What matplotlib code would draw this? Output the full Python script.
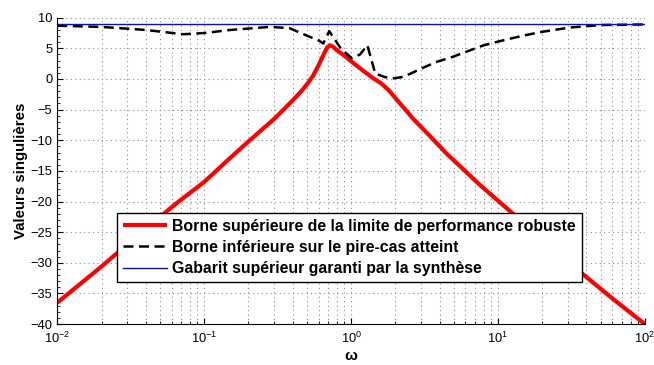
import numpy as np
import matplotlib
matplotlib.use("Agg")
import matplotlib.pyplot as plt
from matplotlib.ticker import LogLocator, MultipleLocator, NullFormatter

plt.rcParams['font.family'] = ['Liberation Sans', 'DejaVu Sans']
plt.rcParams['mathtext.fontset'] = 'custom'
plt.rcParams['mathtext.rm'] = 'Liberation Sans'
plt.rcParams['mathtext.it'] = 'Liberation Sans:italic'
plt.rcParams['mathtext.bf'] = 'Liberation Sans:bold'

# borne supérieure (mu robuste)
w_sup = [0.01, 0.02, 0.04, 0.067, 0.1, 0.15, 0.2, 0.3, 0.35, 0.4, 0.45, 0.5,
         0.55, 0.6, 0.65, 0.69, 0.72, 0.76, 0.8, 0.9, 1.0, 1.2, 1.4, 1.6, 1.8,
         2.0, 2.65, 3.5, 4.48, 7.54, 12.4, 20, 37.2, 60, 100]
mu_sup = [-36.5, -30.6, -24.4, -20.0, -16.8, -12.9, -10.2, -6.5, -4.9, -3.5,
          -2.2, -0.9, 0.5, 2.2, 4.0, 5.2, 5.5, 5.2, 4.7, 3.8, 2.9, 1.4, 0.2,
          -0.7, -1.8, -3.1, -6.5, -9.5, -12.2, -17.3, -21.8, -26.3, -31.7,
          -35.8, -40.0]

# borne inférieure (pire-cas)
w_inf = [0.01, 0.02, 0.04, 0.072, 0.1, 0.15, 0.28, 0.38, 0.52, 0.6, 0.647,
         0.71, 0.85, 1.01, 1.15, 1.29, 1.46, 1.7, 1.95, 2.2, 2.5, 3.0, 3.83,
         4.9, 6.5, 8.0, 10.8, 15, 20, 30.9, 50, 100]
mu_inf = [8.7, 8.5, 8.0, 7.3, 7.5, 8.0, 8.5, 8.3, 6.9, 6.3, 5.8,
          7.8, 5.0, 3.4, 4.0, 5.5, 0.9, 0.3, 0.1, 0.3, 0.8, 1.7, 2.8,
          3.6, 4.7, 5.5, 6.3, 7.1, 7.7, 8.4, 8.8, 8.9]

# gabarit
w_gab = [0.01, 100]
gab = [9.0, 9.0]

fig = plt.figure(figsize=(6.54, 3.65), dpi=100)
ax = fig.add_axes([0.0876, 0.112, 0.8985, 0.8395])

ax.semilogx(w_sup, mu_sup, color='#ff0000', lw=3.0, solid_capstyle='butt',
            label='Borne supérieure de la limite de performance robuste')
ax.semilogx(w_inf, mu_inf, color='black', lw=1.8, dashes=(4, 2.2),
            label='Borne inférieure sur le pire-cas atteint')
ax.semilogx(w_gab, gab, color='#1010b0', lw=1.0,
            label='Gabarit supérieur garanti par la synthèse')

ax.set_xlim(1e-2, 1e2)
ax.set_ylim(-40, 10)
ax.yaxis.set_major_locator(MultipleLocator(5))
ax.yaxis.set_minor_locator(MultipleLocator(1))
ax.xaxis.set_major_locator(LogLocator(base=10, numticks=10))
ax.xaxis.set_minor_locator(LogLocator(base=10, subs=np.arange(2, 10), numticks=20))
ax.xaxis.set_minor_formatter(NullFormatter())

ax.grid(True, which='major', axis='both', color='#8c8c8c', ls=(0, (1, 3)), lw=0.8)
ax.grid(True, which='minor', axis='x', color='#8c8c8c', ls=(0, (1, 3)), lw=0.8)
ax.spines['top'].set_visible(False)
ax.spines['right'].set_visible(False)
ax.tick_params(which='both', direction='in', labelsize=9.3)
ax.tick_params(which='major', length=4)
ax.tick_params(which='minor', length=2)
ax.tick_params(axis='x', pad=5)

ax.set_ylabel('Valeurs singulières', fontsize=10.8, fontweight='bold', labelpad=2)
ax.set_xlabel('ω', fontsize=11, fontweight='bold', labelpad=2)

leg = ax.legend(loc='lower left', bbox_to_anchor=(0.1016, 0.138),
                borderaxespad=0, fancybox=False, edgecolor='black',
                framealpha=1, handlelength=2.8, handletextpad=0.35,
                labelspacing=0.4, borderpad=0.35,
                prop={'weight': 'bold', 'size': 11.4})
leg.get_frame().set_linewidth(1.0)

fig.savefig('out.png', dpi=100)
